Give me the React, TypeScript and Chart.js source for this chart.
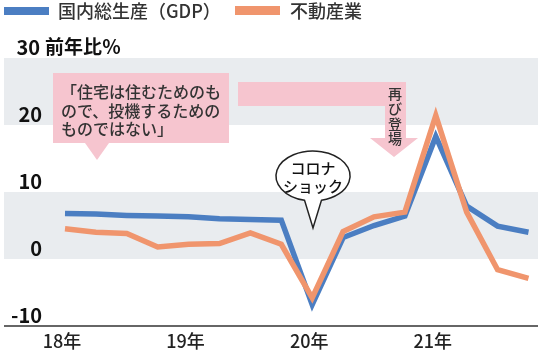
import React, { useEffect, useRef } from "react";
import { Chart, registerables } from "chart.js";

Chart.register(...registerables);

const quarters = [
  "18Q1", "18Q2", "18Q3", "18Q4",
  "19Q1", "19Q2", "19Q3", "19Q4",
  "20Q1", "20Q2", "20Q3", "20Q4",
  "21Q1", "21Q2", "21Q3", "21Q4",
];
const gdp = [6.8, 6.7, 6.5, 6.4, 6.3, 6.0, 5.9, 5.8, -6.8, 3.2, 5.0, 6.4, 18.3, 7.9, 4.9, 4.0];
const realEstate = [4.5, 4.0, 3.8, 1.8, 2.2, 2.3, 3.9, 2.2, -5.8, 4.1, 6.3, 7.0, 21.4, 7.0, -1.6, -2.9];
const seriesNames = ["国内総生産（GDP）", "不動産業"];
const yTicks = [30, 20, 10, 0, -10];
const yUnit = "前年比％";
const xTickLabels = ["18年", "19年", "20年", "21年"];
const xTickIndex = [0, 4, 8, 12];
const note1 = ["「住宅は住むためのも", "ので、投機するための", "ものではない」"];
const note2 = ["再", "び", "登", "場"];
const note3 = ["コロナ", "ショック"];

const BLUE = "#4b7ec2";
const ORANGE = "#f0956d";
const BAND = "#e9ecef";
const PINK = "#f6c5cf";
const FONT = '"Noto Sans CJK JP", "Noto Sans", sans-serif';

const deco = {
  id: "deco",
  beforeDatasetsDraw(chart: any) {
    const { ctx, chartArea, scales } = chart;
    const { left, right } = chartArea;
    const y = scales.y;
    const x = scales.x;
    ctx.save();
    // bands
    ctx.fillStyle = BAND;
    [[20, 30], [0, 10]].forEach(([lo, hi]) => {
      const t = y.getPixelForValue(hi);
      const b = y.getPixelForValue(lo);
      ctx.fillRect(left, t, right - left, b - t);
    });
    // axis line
    const yb = y.getPixelForValue(-10);
    ctx.strokeStyle = "#333";
    ctx.lineWidth = 1.5;
    ctx.beginPath();
    ctx.moveTo(left, yb);
    ctx.lineTo(right, yb);
    ctx.stroke();
    // y labels
    ctx.fillStyle = "#111";
    ctx.font = `bold 20px ${FONT}`;
    ctx.textAlign = "right";
    ctx.textBaseline = "middle";
    yTicks.forEach((v, k) => {
      ctx.fillText(String(v), k === 0 ? 40 : 42, y.getPixelForValue(v) - 11);
    });
    ctx.textAlign = "left";
    ctx.font = `bold 19px ${FONT}`;
    ctx.fillText(yUnit, 45, y.getPixelForValue(yTicks[0]) - 11);
    // x labels
    ctx.fillStyle = "#222";
    ctx.font = `500 18px ${FONT}`;
    ctx.textAlign = "center";
    xTickLabels.forEach((lab, k) => {
      ctx.fillText(lab, x.getPixelForValue(xTickIndex[k]) - 3, yb + 15);
    });
    // legend
    ctx.textAlign = "left";
    ctx.font = `500 18px ${FONT}`;
    ctx.fillStyle = BLUE;
    ctx.fillRect(4, 7, 45, 8);
    ctx.fillStyle = ORANGE;
    ctx.fillRect(235, 6, 45, 9);
    ctx.fillStyle = "#333";
    ctx.fillText(seriesNames[0], 58, 11);
    ctx.fillText(seriesNames[1], 290, 11);
    ctx.restore();
  },
  afterDatasetsDraw(chart: any) {
    const { ctx } = chart;
    ctx.save();
    // callout 1
    ctx.fillStyle = PINK;
    ctx.fillRect(53, 73, 176, 70);
    ctx.beginPath();
    ctx.moveTo(85, 143);
    ctx.lineTo(109, 143);
    ctx.lineTo(97, 160);
    ctx.closePath();
    ctx.fill();
    ctx.fillStyle = "#333";
    ctx.font = `500 16px ${FONT}`;
    ctx.textAlign = "left";
    ctx.textBaseline = "middle";
    note1.forEach((t, i) => ctx.fillText(t, 61, 92 + i * 18.5));
    // callout 2 arrow
    ctx.fillStyle = PINK;
    ctx.beginPath();
    ctx.moveTo(238, 82);
    ctx.lineTo(406, 82);
    ctx.lineTo(406, 138);
    ctx.lineTo(418, 138);
    ctx.lineTo(394, 157);
    ctx.lineTo(370, 138);
    ctx.lineTo(385, 138);
    ctx.lineTo(385, 106);
    ctx.lineTo(238, 106);
    ctx.closePath();
    ctx.fill();
    ctx.fillStyle = "#333";
    ctx.font = `500 14px ${FONT}`;
    ctx.textAlign = "center";
    note2.forEach((t, i) => ctx.fillText(t, 395, 94 + i * 15));
    // callout 3 bubble
    const cx = 313, cy = 176, rx = 37, ry = 25;
    const da = 0.23;
    ctx.beginPath();
    ctx.ellipse(cx, cy, rx, ry, 0, Math.PI / 2 + da, Math.PI / 2 - da + Math.PI * 2);
    ctx.lineTo(313, 228);
    ctx.closePath();
    ctx.fillStyle = "#fff";
    ctx.fill();
    ctx.strokeStyle = "#222";
    ctx.lineWidth = 1.5;
    ctx.lineJoin = "miter";
    ctx.stroke();
    ctx.fillStyle = "#111";
    ctx.font = `500 15px ${FONT}`;
    ctx.fillText(note3[0], cx, 168);
    ctx.fillText(note3[1], cx, 186);
    ctx.restore();
  },
};

export default function App() {
  const ref = useRef<HTMLCanvasElement>(null);
  useEffect(() => {
    document.body.style.margin = "0";
    const canvas = ref.current!;
    const chart = new Chart(canvas, {
      type: "line",
      data: {
        datasets: [
          {
            label: seriesNames[0],
            data: gdp.map((v, i) => ({ x: i, y: v })),
            borderColor: BLUE,
            borderWidth: 5.5,
            pointRadius: 0,
            tension: 0,
            order: 1,
            borderJoinStyle: "miter",
          },
          {
            label: seriesNames[1],
            data: realEstate.map((v, i) => ({ x: i, y: v })),
            borderColor: ORANGE,
            borderWidth: 5.5,
            pointRadius: 0,
            tension: 0,
            order: 0,
            borderJoinStyle: "miter",
          },
        ],
      },
      options: {
        animation: false,
        responsive: false,
        devicePixelRatio: 1,
        layout: { padding: { left: 4, top: 58, right: 12, bottom: 29 } },
        plugins: { legend: { display: false }, tooltip: { enabled: false } },
        scales: {
          x: { type: "linear", display: false, min: -1.974, max: quarters.length - 1 + 0.308 },
          y: { display: false, min: -10, max: 30 },
        },
      },
      plugins: [deco],
    });
    return () => chart.destroy();
  }, []);
  return <canvas ref={ref} width={550} height={355} style={{ display: "block" }} />;
}
